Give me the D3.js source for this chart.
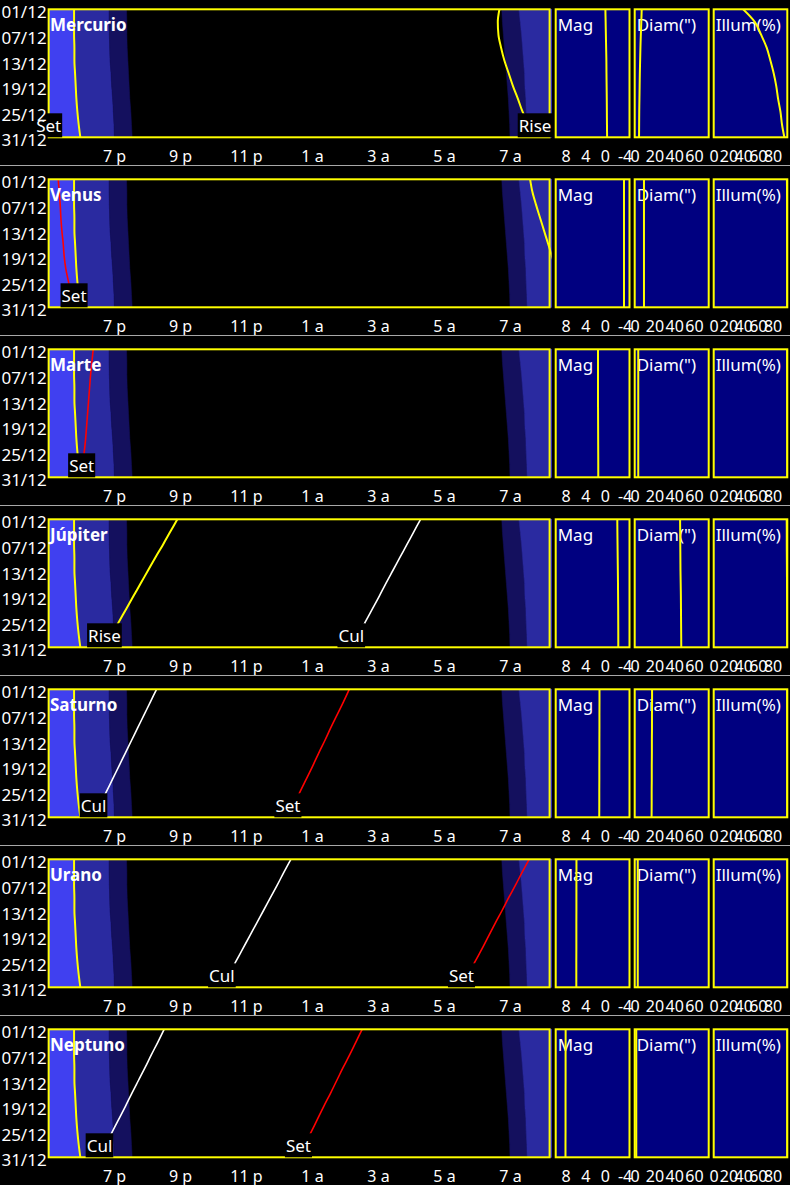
<!DOCTYPE html>
<html><head><meta charset="utf-8">
<script src="https://cdn.jsdelivr.net/npm/d3@7"></script>
<style>
html,body{margin:0;padding:0;background:#000;}
svg{display:block;}
text{font-family:"Noto Sans","Open Sans",sans-serif;}
</style></head><body>
<svg id="chart" width="790" height="1185"></svg>
<script>
// ---------- DATA ----------
const days = [1, 4, 7, 10, 13, 16, 19, 22, 25, 28, 31];          // December
const dateTicks = [1, 7, 13, 19, 25, 31];
const hourTicks = [19, 21, 23, 25, 27, 29, 31];
const hourTickLabels = ["7 p", "9 p", "11 p", "1 a", "3 a", "5 a", "7 a"];
const magTicks = [8, 4, 0, -4];
const diamTicks = [0, 20, 40, 60];
const illumTicks = [0, 20, 40, 60, 80];

// twilight (decimal hours; >24 = next morning)
const sunset       = [17.79, 17.79, 17.79, 17.80, 17.80, 17.82, 17.84, 17.86, 17.89, 17.93, 17.98];
const duskCivil    = [18.85, 18.85, 18.86, 18.87, 18.88, 18.91, 18.93, 18.96, 18.98, 19.00, 19.01];
const duskNautical = [19.38, 19.39, 19.39, 19.40, 19.42, 19.44, 19.46, 19.48, 19.51, 19.53, 19.55];
const dawnNautical = [30.75, 30.77, 30.80, 30.83, 30.86, 30.89, 30.92, 30.95, 30.97, 30.99, 31.00];
const dawnCivil    = [31.27, 31.31, 31.35, 31.38, 31.41, 31.44, 31.45, 31.48, 31.49, 31.51, 31.52];
const sunrise      = [32.33, 32.36, 32.40, 32.43, 32.46, 32.49, 32.51, 32.53, 32.55, 32.57, 32.59];

const planetNames = ["Mercurio", "Venus", "Marte", "Júpiter", "Saturno", "Urano", "Neptuno"];

const mercurioRise = [30.68, 30.63, 30.65, 30.73, 30.83, 30.96, 31.09, 31.24, 31.38, 31.56, 31.76];
const mercurioSet  = [16.30, 16.25, 16.25, 16.28, 16.32, 16.38, 16.45, 16.52, 16.60, 16.68, 16.75];
const venusSet     = [17.31, 17.34, 17.37, 17.39, 17.42, 17.46, 17.49, 17.54, 17.62, 17.70, 17.79];
const venusRise    = [31.61, 31.68, 31.79, 31.91, 32.03, 32.15, 32.27, 32.39, 32.52, 32.64, 32.76];
const marteSet     = [18.37, 18.33, 18.29, 18.26, 18.23, 18.20, 18.17, 18.14, 18.10, 18.06, 18.02];
const jupiterRise  = [20.92, 20.70, 20.48, 20.25, 20.03, 19.81, 19.59, 19.37, 19.15, 18.93, 18.71];
const jupiterCul   = [28.29, 28.08, 27.87, 27.66, 27.45, 27.24, 27.04, 26.83, 26.62, 26.41, 26.19];
const saturnoCul   = [20.29, 20.10, 19.91, 19.72, 19.53, 19.34, 19.15, 18.96, 18.77, 18.58, 18.38];
const saturnoSet   = [26.13, 25.95, 25.76, 25.57, 25.39, 25.20, 25.02, 24.83, 24.64, 24.46, 24.27];
const uranoCul     = [24.36, 24.15, 23.95, 23.74, 23.53, 23.32, 23.11, 22.90, 22.69, 22.48, 22.27];
const uranoSet     = [31.58, 31.37, 31.17, 30.96, 30.76, 30.55, 30.35, 30.15, 29.94, 29.74, 29.53];
const neptunoCul   = [20.52, 20.33, 20.13, 19.94, 19.74, 19.54, 19.35, 19.15, 18.95, 18.76, 18.56];
const neptunoSet   = [26.52, 26.33, 26.14, 25.94, 25.75, 25.56, 25.36, 25.17, 24.98, 24.79, 24.59];

const mercurioMag   = [-0.10, -0.15, -0.20, -0.25, -0.30, -0.32, -0.35, -0.38, -0.40, -0.42, -0.45];
const mercurioDiam  = [7.1, 6.7, 6.2, 5.8, 5.5, 5.2, 5.0, 4.8, 4.6, 4.5, 4.4];
const mercurioIllum = [40, 56, 64.5, 72, 77, 81.5, 85, 87.5, 90.7, 92.8, 96];
const venusMag   = [-3.88, -3.88, -3.88, -3.88, -3.88, -3.88, -3.88, -3.88, -3.88, -3.88, -3.88];
const venusDiam  = [9.4, 9.4, 9.4, 9.4, 9.4, 9.4, 9.4, 9.4, 9.4, 9.4, 9.4];
const venusIllum = [99.5, 99.6, 99.7, 99.7, 99.8, 99.8, 99.9, 99.9, 99.9, 99.9, 99.9];
const marteMag   = [1.40, 1.40, 1.40, 1.40, 1.40, 1.39, 1.38, 1.37, 1.36, 1.35, 1.35];
const marteDiam  = [3.6, 3.6, 3.6, 3.6, 3.6, 3.6, 3.6, 3.6, 3.6, 3.6, 3.6];
const marteIllum = [99.8, 99.8, 99.8, 99.9, 99.9, 99.9, 99.9, 100, 100, 100, 100];
const jupiterMag   = [-2.52, -2.54, -2.57, -2.60, -2.63, -2.66, -2.68, -2.70, -2.71, -2.72, -2.72];
const jupiterDiam  = [46.0, 46.1, 46.2, 46.3, 46.4, 46.6, 46.8, 46.9, 47.0, 47.1, 47.2];
const jupiterIllum = [99.2, 99.3, 99.3, 99.4, 99.5, 99.6, 99.7, 99.8, 99.8, 99.9, 99.9];
const saturnoMag   = [1.10, 1.10, 1.11, 1.11, 1.12, 1.12, 1.13, 1.13, 1.14, 1.14, 1.15];
const saturnoDiam  = [17.6, 17.6, 17.5, 17.5, 17.4, 17.4, 17.3, 17.3, 17.2, 17.2, 17.1];
const saturnoIllum = [99.8, 99.8, 99.8, 99.8, 99.8, 99.9, 99.9, 99.9, 99.9, 99.9, 99.9];
const uranoMag   = [5.78, 5.78, 5.79, 5.79, 5.79, 5.80, 5.80, 5.80, 5.81, 5.81, 5.81];
const uranoDiam  = [3.1, 3.1, 3.1, 3.1, 3.1, 3.1, 3.1, 3.1, 3.1, 3.1, 3.1];
const uranoIllum = [100, 100, 100, 100, 100, 100, 100, 100, 100, 100, 100];
const neptunoMag   = [7.98, 7.98, 7.99, 7.99, 7.99, 8.00, 8.00, 8.00, 8.00, 8.01, 8.01];
const neptunoDiam  = [1.6, 1.6, 1.6, 1.6, 1.6, 1.6, 1.6, 1.6, 1.6, 1.6, 1.6];
const neptunoIllum = [100, 100, 100, 100, 100, 100, 100, 100, 100, 100, 100];

// ---------- TABLE ----------
const EVT = {
  rise: {color: "#ffff00", text: "Rise"},
  cul:  {color: "#ffffff", text: "Cul"},
  set:  {color: "#ff0000", text: "Set"}
};
const planets = [
  {events: [{k: "rise", v: mercurioRise, lab: true}, {k: "set", v: mercurioSet, lab: true}],
   mag: mercurioMag, diam: mercurioDiam, illum: mercurioIllum},
  {events: [{k: "set", v: venusSet, lab: true}, {k: "rise", v: venusRise, lab: false}],
   mag: venusMag, diam: venusDiam, illum: venusIllum},
  {events: [{k: "set", v: marteSet, lab: true}],
   mag: marteMag, diam: marteDiam, illum: marteIllum},
  {events: [{k: "rise", v: jupiterRise, lab: true}, {k: "cul", v: jupiterCul, lab: true}],
   mag: jupiterMag, diam: jupiterDiam, illum: jupiterIllum},
  {events: [{k: "cul", v: saturnoCul, lab: true}, {k: "set", v: saturnoSet, lab: true}],
   mag: saturnoMag, diam: saturnoDiam, illum: saturnoIllum},
  {events: [{k: "cul", v: uranoCul, lab: true}, {k: "set", v: uranoSet, lab: true}],
   mag: uranoMag, diam: uranoDiam, illum: uranoIllum},
  {events: [{k: "cul", v: neptunoCul, lab: true}, {k: "set", v: neptunoSet, lab: true}],
   mag: neptunoMag, diam: neptunoDiam, illum: neptunoIllum}
].map((p, i) => Object.assign(p, {name: planetNames[i]}));

const twilight = days.map((d, i) => ({day: d, sunset: sunset[i], duskCivil: duskCivil[i],
  duskNautical: duskNautical[i], dawnNautical: dawnNautical[i], dawnCivil: dawnCivil[i], sunrise: sunrise[i]}));

// ---------- LAYOUT ----------
const PANEL_H = 170;
const C = {day: "#4040f0", civil: "#2a2aa0", naut: "#14105e", panel: "#000080", yellow: "#ffff00", sep: "#a8a8a8"};
const x = d3.scaleLinear().domain([17.02, 32.2]).range([48.66, 549.6]);
const y = d3.scaleLinear().domain([1, 31]).range([9.3, 137.3]);
const sub = [
  {key: "mag",   title: "Mag",      scale: d3.scaleLinear().domain([10, -5]).range([555.7, 629.5]), ticks: magTicks},
  {key: "diam",  title: "Diam(\")", scale: d3.scaleLinear().domain([0, 75]).range([634.7, 708.7]), ticks: diamTicks},
  {key: "illum", title: "Illum(%)", scale: d3.scaleLinear().domain([0, 100]).range([713.7, 787.3]), ticks: illumTicks}
];

const svg = d3.select("#chart");
const defs = svg.append("defs");
defs.append("clipPath").attr("id", "clipMain").append("rect")
  .attr("x", x.range()[0]).attr("y", y.range()[0] - 1)
  .attr("width", x.range()[1] - x.range()[0] + 2).attr("height", y.range()[1] - y.range()[0] + 3);
sub.forEach(s => defs.append("clipPath").attr("id", "clip-" + s.key).append("rect")
  .attr("x", s.scale.range()[0]).attr("y", y.range()[0])
  .attr("width", s.scale.range()[1] - s.scale.range()[0]).attr("height", y.range()[1] - y.range()[0]));

const bandDefs = [
  {fill: C.day,   a: () => x.range()[0],       b: r => x(r.sunset)},
  {fill: C.civil, a: r => x(r.sunset),         b: r => x(r.duskCivil)},
  {fill: C.naut,  a: r => x(r.duskCivil),      b: r => x(r.duskNautical)},
  {fill: C.naut,  a: r => x(r.dawnNautical),   b: r => x(r.dawnCivil)},
  {fill: C.civil, a: r => x(r.dawnCivil),      b: r => x(r.sunrise)},
  {fill: C.day,   a: r => x(r.sunrise),        b: () => x.range()[1]}
];

planets.forEach((p, pi) => {
  const g = svg.append("g").attr("transform", `translate(0,${pi * PANEL_H})`);

  // main plot background + twilight bands
  const main = g.append("g").attr("clip-path", "url(#clipMain)");
  main.append("rect").attr("x", x.range()[0]).attr("y", y.range()[0])
    .attr("width", x.range()[1] - x.range()[0]).attr("height", y.range()[1] - y.range()[0]).attr("fill", "#000");
  bandDefs.forEach(b => {
    main.append("path").datum(twilight)
      .attr("d", d3.area().y(r => y(r.day)).x0(b.a).x1(b.b))
      .attr("fill", b.fill).attr("stroke", b.fill).attr("stroke-width", 0.5);
  });
  // sun set line
  main.append("path").datum(twilight)
    .attr("d", d3.line().x(r => x(r.sunset)).y(r => y(r.day)).curve(d3.curveMonotoneY))
    .attr("fill", "none").attr("stroke", C.yellow).attr("stroke-width", 2);

  // planet event curves
  p.events.forEach(e => {
    const pts = days.map((d, i) => ({day: d, t: e.v[i]}));
    main.append("path").datum(pts)
      .attr("d", d3.line().x(d => x(d.t)).y(d => y(d.day)).curve(d3.curveMonotoneY))
      .attr("fill", "none").attr("stroke", EVT[e.k].color)
      .attr("stroke-width", e.k === "rise" ? 2 : 1.6);
  });

  // main border
  g.append("rect").attr("x", x.range()[0]).attr("y", y.range()[0])
    .attr("width", x.range()[1] - x.range()[0]).attr("height", y.range()[1] - y.range()[0])
    .attr("fill", "none").attr("stroke", C.yellow).attr("stroke-width", 2);

  // event labels at last date
  p.events.filter(e => e.lab).forEach(e => {
    const last = e.v[e.v.length - 1];
    const cx = Math.max(x.range()[0], Math.min(x.range()[1], x(last)));
    const lg = g.append("g");
    const t = lg.append("text").attr("x", cx).attr("y", y(days[days.length - 1]) - 5)
      .attr("text-anchor", "middle").attr("fill", "#fff").style("font-size", "17px").text(EVT[e.k].text);
    const w = t.node().getComputedTextLength() + 2;
    lg.insert("rect", "text").attr("x", cx - w / 2).attr("y", y.range()[1] - 24)
      .attr("width", w).attr("height", 24).attr("fill", "#000");
  });

  // planet name
  g.append("text").attr("x", 50).attr("y", 31).attr("fill", "#fff")
    .style("font-size", "17px").style("font-weight", "bold").text(p.name);

  // axes
  const xa = g.append("g").attr("transform", `translate(0,${y.range()[1]})`)
    .call(d3.axisBottom(x).tickValues(hourTicks).tickFormat((d, i) => hourTickLabels[i]).tickSize(0).tickPadding(13));
  xa.select(".domain").remove();
  xa.selectAll("text").attr("fill", "#fff").style("font-size", "16px").style("font-family", "'Noto Sans',sans-serif");

  const ya = g.append("g").attr("transform", `translate(${x.range()[0]},0)`)
    .call(d3.axisLeft(y).tickValues(dateTicks).tickFormat(d => String(d).padStart(2, "0") + "/12").tickSize(0).tickPadding(2));
  ya.select(".domain").remove();
  ya.selectAll("text").attr("fill", "#fff").attr("dy", "0.5em").style("font-size", "17px").style("font-family", "'Noto Sans',sans-serif");

  // side panels
  sub.forEach(s => {
    const sg = g.append("g");
    sg.append("rect").attr("x", s.scale.range()[0]).attr("y", y.range()[0])
      .attr("width", s.scale.range()[1] - s.scale.range()[0]).attr("height", y.range()[1] - y.range()[0])
      .attr("fill", C.panel);
    sg.append("text").attr("x", s.scale.range()[0] + 2).attr("y", 31).attr("fill", "#fff")
      .style("font-size", "17px").text(s.title);
    const pts = days.map((d, i) => ({day: d, v: p[s.key][i]}));
    sg.append("g").attr("clip-path", `url(#clip-${s.key})`).append("path").datum(pts)
      .attr("d", d3.line().x(d => s.scale(d.v)).y(d => y(d.day)).curve(d3.curveMonotoneY))
      .attr("fill", "none").attr("stroke", C.yellow).attr("stroke-width", 2);
    sg.append("rect").attr("x", s.scale.range()[0]).attr("y", y.range()[0])
      .attr("width", s.scale.range()[1] - s.scale.range()[0]).attr("height", y.range()[1] - y.range()[0])
      .attr("fill", "none").attr("stroke", C.yellow).attr("stroke-width", 2);
    const sa = sg.append("g").attr("transform", `translate(0,${y.range()[1]})`)
      .call(d3.axisBottom(s.scale).tickValues(s.ticks).tickFormat(d => String(d)).tickSize(0).tickPadding(13));
    sa.select(".domain").remove();
    sa.selectAll("text").attr("fill", "#fff").style("font-size", "16px").style("font-family", "'Noto Sans',sans-serif");
  });

  // separator
  g.append("line").attr("x1", 0).attr("x2", 790).attr("y1", 165.5).attr("y2", 165.5)
    .attr("stroke", C.sep).attr("stroke-width", 1);
});
</script>
</body></html>
